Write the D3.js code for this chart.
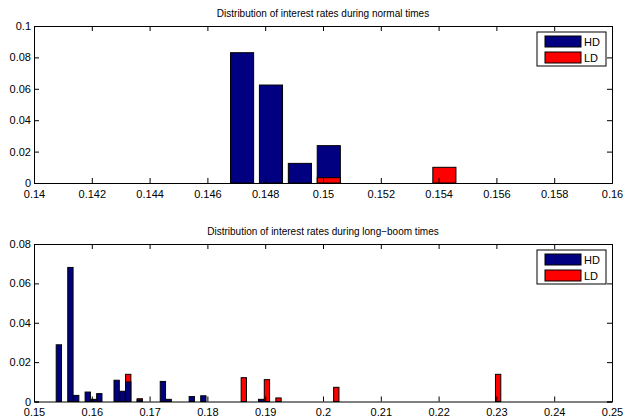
<!DOCTYPE html>
<html>
<head>
<meta charset="utf-8">
<script src="https://cdn.jsdelivr.net/npm/d3@7"></script>
<style>
    body { margin: 0; background: #fff; }
    svg { display: block; font-family: "Liberation Sans", Arial, sans-serif; }
</style>
</head>
<body>
<div id="chart"></div>
<script>
// Chart data (histogram bins)
const seriesNames = ['HD', 'LD'];
const seriesColors = ['#000080', '#ff0000'];

const normalBins = [0.1472, 0.1482, 0.1492, 0.1502, 0.1542];
const normalHD = [0.0830, 0.0624, 0.0125, 0.0238, 0];
const normalLD = [0, 0, 0, 0.0034, 0.0100];
const normalXTicks = [0.14, 0.142, 0.144, 0.146, 0.148, 0.15, 0.152, 0.154, 0.156, 0.158, 0.16];
const normalYTicks = [0, 0.02, 0.04, 0.06, 0.08, 0.1];

const boomBins = [0.1543, 0.1563, 0.1573, 0.1593, 0.1603, 0.1613, 0.1643, 0.1653, 0.1663, 0.1683,
                  0.1723, 0.1733, 0.1773, 0.1793, 0.1863, 0.1893, 0.1903, 0.1923, 0.2023, 0.2303];
const boomHD = [0.0288, 0.0681, 0.0031, 0.0048, 0.0011, 0.0040, 0.0108, 0.0052, 0.0099, 0.0008,
                0.0102, 0.0011, 0.0025, 0.0029, 0, 0.0011, 0, 0, 0, 0];
const boomLD = [0, 0, 0, 0, 0, 0, 0, 0, 0.0138, 0.0014,
                0, 0, 0, 0, 0.0121, 0, 0.0111, 0.0018, 0.0072, 0.0138];
const boomXTicks = [0.15, 0.16, 0.17, 0.18, 0.19, 0.2, 0.21, 0.22, 0.23, 0.24, 0.25];
const boomYTicks = [0, 0.02, 0.04, 0.06, 0.08];

const W = 626, H = 417;
const svg = d3.select('#chart').append('svg')
    .attr('width', W)
    .attr('height', H);

function fmt(v) {
    return String(+v.toFixed(4));
}

function drawPanel(opts) {
    const { title, bins, hd, ld, xTicks, yTicks, top, bottom, barWidth } = opts;
    const left = 34, right = 612;

    const x = d3.scaleLinear().domain([xTicks[0], xTicks[xTicks.length - 1]]).range([left, right]);
    const y = d3.scaleLinear().domain([yTicks[0], yTicks[yTicks.length - 1]]).range([bottom, top]);

    const g = svg.append('g');

    // Title
    g.append('text')
        .attr('x', (left + right) / 2)
        .attr('y', top - 9)
        .attr('text-anchor', 'middle')
        .style('font-size', '10px')
        .text(title);

    // Bars: in each bin, the taller bar is drawn first, the shorter in front
    const bars = [];
    bins.forEach((b, i) => {
        const pair = [
            { bin: b, v: hd[i], s: 0 },
            { bin: b, v: ld[i], s: 1 }
        ].filter(d => d.v > 0).sort((a, c) => c.v - a.v);
        bars.push(...pair);
    });

    g.selectAll('.bar')
        .data(bars)
        .enter()
        .append('rect')
        .attr('class', 'bar')
        .attr('x', d => x(d.bin - barWidth / 2))
        .attr('width', d => x(d.bin + barWidth / 2) - x(d.bin - barWidth / 2))
        .attr('y', d => y(d.v))
        .attr('height', d => y(0) - y(d.v))
        .attr('fill', d => seriesColors[d.s])
        .attr('stroke', '#000')
        .attr('stroke-width', 1);

    // Axes (box with inward ticks on all four sides)
    const tick = 5;
    const bottomAxis = d3.axisBottom(x).tickValues(xTicks).tickSize(-tick).tickPadding(7).tickFormat(fmt);
    const topAxis = d3.axisTop(x).tickValues(xTicks).tickSize(-tick).tickFormat('');
    const leftAxis = d3.axisLeft(y).tickValues(yTicks).tickSize(-tick).tickPadding(3).tickFormat(fmt);
    const rightAxis = d3.axisRight(y).tickValues(yTicks).tickSize(-tick).tickFormat('');

    const axes = [
        g.append('g').attr('transform', `translate(0,${bottom})`).call(bottomAxis),
        g.append('g').attr('transform', `translate(0,${top})`).call(topAxis),
        g.append('g').attr('transform', `translate(${left},0)`).call(leftAxis),
        g.append('g').attr('transform', `translate(${right},0)`).call(rightAxis)
    ];
    axes.forEach(a => {
        a.select('.domain').attr('stroke', '#000').attr('stroke-width', 1);
        a.selectAll('.tick line').attr('stroke', '#000');
        a.selectAll('text')
            .attr('fill', '#000')
            .style('font-family', '"Liberation Sans", Arial, sans-serif')
            .style('font-size', '11px');
    });

    // Legend
    const lx = 537, ly = top + 6;
    const legend = g.append('g').attr('transform', `translate(${lx},${ly})`);
    legend.append('rect')
        .attr('width', 69).attr('height', 34)
        .attr('fill', '#fff').attr('stroke', '#000');
    seriesNames.forEach((name, i) => {
        legend.append('rect')
            .attr('x', 8).attr('y', 4 + i * 16)
            .attr('width', 36).attr('height', 11)
            .attr('fill', seriesColors[i]).attr('stroke', '#000');
        legend.append('text')
            .attr('x', 47).attr('y', 14 + i * 16)
            .style('font-size', '11px')
            .text(name);
    });
}

drawPanel({
    title: 'Distribution of interest rates during normal times',
    bins: normalBins, hd: normalHD, ld: normalLD,
    xTicks: normalXTicks, yTicks: normalYTicks,
    top: 26, bottom: 183, barWidth: 0.0008
});

drawPanel({
    title: 'Distribution of interest rates during long\u2212boom times',
    bins: boomBins, hd: boomHD, ld: boomLD,
    xTicks: boomXTicks, yTicks: boomYTicks,
    top: 244, bottom: 401.5, barWidth: 0.00092
});
</script>
</body>
</html>
